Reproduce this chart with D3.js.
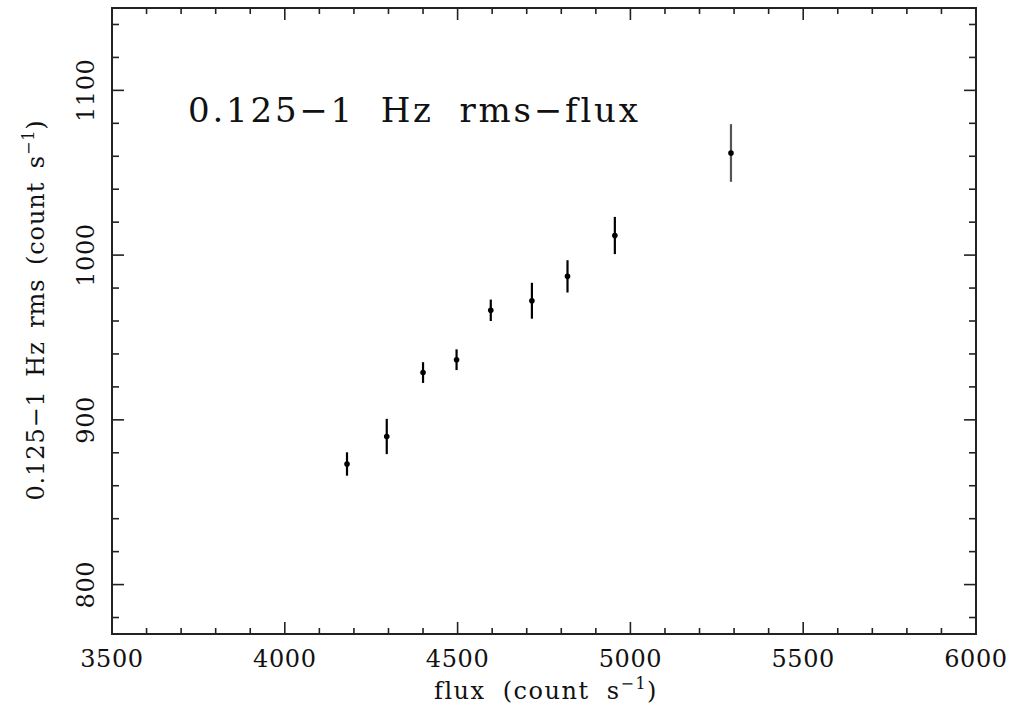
<!DOCTYPE html>
<html>
<head>
<meta charset="utf-8">
<script src="https://cdn.jsdelivr.net/npm/d3@7"></script>
<style>
  body { margin: 0; background: #fff; }
  svg { display: block; }
  text { font-family: "DejaVu Serif", serif; fill: #111; }
</style>
</head>
<body>
<svg id="chart" width="1024" height="705"></svg>
<script>
// rms-flux points
const flux = [4180, 4295, 4400, 4497, 4596, 4715, 4818, 4955, 5291]
const rms = [873.2, 889.9, 928.7, 936.5, 966.5, 972.3, 987.1, 1011.9, 1062.0]
const rmsErr = [7.1, 10.7, 6.3, 6.3, 6.5, 10.9, 9.8, 11.3, 17.5]
const xTicks = [3500, 4000, 4500, 5000, 5500, 6000]
const yTicks = [800, 900, 1000, 1100]

const data = flux.map((f, i) => ({ x: f, y: rms[i], e: rmsErr[i] }))

const margin = { left: 112, right: 48, top: 8, bottom: 71 }
const width = 1024, height = 705
const svg = d3.select('#chart')

let x = d3.scaleLinear().domain([3500, 6000]).range([margin.left, width - margin.right])
let y = d3.scaleLinear().domain([770, 1150]).range([height - margin.bottom, margin.top])

const x0 = x.range()[0], x1 = x.range()[1]
const y0 = y.range()[0], y1 = y.range()[1]

// inward ticks on all four sides
let xMinor = d3.range(3500, 6001, 100)
let yMinor = d3.range(780, 1150, 20)
let tickLen = v => (v % 500 === 0 ? 12 : 6)
let tickLenY = v => (v % 100 === 0 ? 12 : 7)

let ticks = svg.append('g').attr('stroke', '#222').attr('stroke-width', 1.6)
ticks.selectAll('.xb').data(xMinor).enter().append('line')
  .attr('x1', d => x(d)).attr('x2', d => x(d))
  .attr('y1', y0).attr('y2', d => y0 - tickLen(d))
ticks.selectAll('.xt').data(xMinor).enter().append('line')
  .attr('x1', d => x(d)).attr('x2', d => x(d))
  .attr('y1', y1).attr('y2', d => y1 + tickLen(d))
ticks.selectAll('.yl').data(yMinor).enter().append('line')
  .attr('y1', d => y(d)).attr('y2', d => y(d))
  .attr('x1', x0).attr('x2', d => x0 + tickLenY(d))
ticks.selectAll('.yr').data(yMinor).enter().append('line')
  .attr('y1', d => y(d)).attr('y2', d => y(d))
  .attr('x1', x1).attr('x2', d => x1 - tickLenY(d))

svg.append('rect')
  .attr('x', x0).attr('y', y1)
  .attr('width', x1 - x0).attr('height', y0 - y1)
  .attr('fill', 'none').attr('stroke', '#222').attr('stroke-width', 2)

// tick labels
svg.selectAll('.xlab').data(xTicks).enter().append('text')
  .attr('x', d => x(d)).attr('y', 667)
  .attr('text-anchor', 'middle')
  .style('font-size', '24px')
  .style('letter-spacing', '0.6px')
  .text(d => d)

svg.selectAll('.ylab').data(yTicks).enter().append('text')
  .attr('transform', d => `translate(94,${y(d)}) rotate(-90)`)
  .attr('text-anchor', 'middle')
  .style('font-size', '24px')
  .style('letter-spacing', '0.6px')
  .text(d => d)

// axis titles
let xt = svg.append('text')
  .attr('x', 546).attr('y', 699)
  .attr('text-anchor', 'middle')
  .style('font-size', '24px')
  .style('letter-spacing', '1.5px')
  .style('word-spacing', '8px')
xt.append('tspan').text('flux (count s')
xt.append('tspan').attr('dy', -10).style('font-size', '16px').text('\u22121')
xt.append('tspan').attr('dy', 10).text(')')

let yt = svg.append('text')
  .attr('transform', 'translate(44,310) rotate(-90)')
  .attr('text-anchor', 'middle')
  .style('font-size', '24px')
  .style('letter-spacing', '0.9px')
  .style('word-spacing', '5px')
yt.append('tspan').text('0.125\u22121 Hz rms (count s')
yt.append('tspan').attr('dy', -10).style('font-size', '16px').text('\u22121')
yt.append('tspan').attr('dy', 10).text(')')

svg.append('text')
  .attr('x', 188).attr('y', 122)
  .style('font-size', '34px')
  .style('letter-spacing', '2.8px')
  .style('word-spacing', '12px')
  .text('0.125\u22121 Hz rms\u2212flux')

// error bars and points
let pts = svg.append('g')
pts.selectAll('.err').data(data).enter().append('line')
  .attr('x1', d => x(d.x)).attr('x2', d => x(d.x))
  .attr('y1', d => y(d.y - d.e)).attr('y2', d => y(d.y + d.e))
  .attr('stroke', (d, i) => i === data.length - 1 ? '#555' : '#000')
  .attr('stroke-width', 2.2)
pts.selectAll('.dot').data(data).enter().append('circle')
  .attr('cx', d => x(d.x)).attr('cy', d => y(d.y))
  .attr('r', 2.8).attr('fill', '#000')
</script>
</body>
</html>
